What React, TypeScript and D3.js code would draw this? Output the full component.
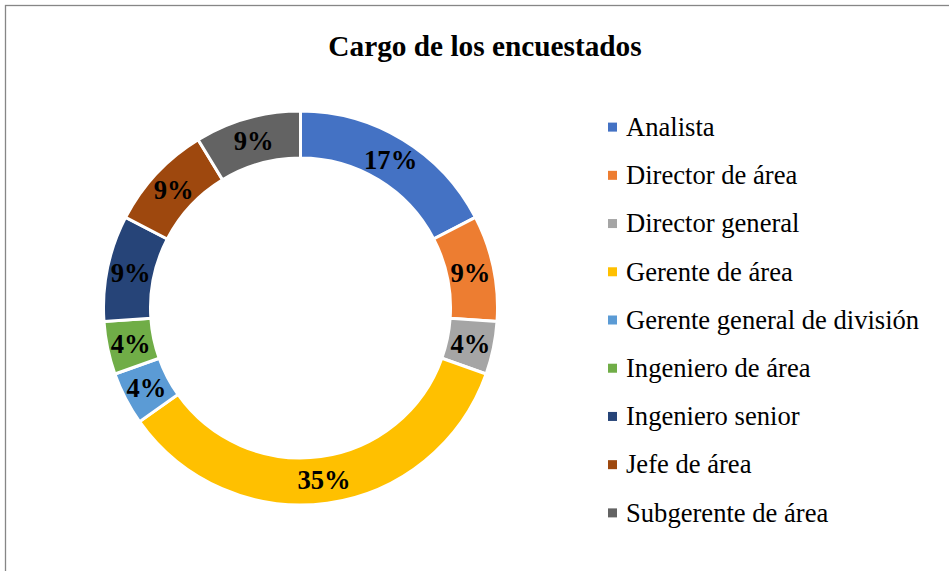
import React, { useEffect, useRef } from 'react';
import * as d3 from 'd3';

const WIDTH = 949;
const HEIGHT = 571;

const categories = [
  'Analista',
  'Director de área',
  'Director general',
  'Gerente de área',
  'Gerente general de división',
  'Ingeniero de área',
  'Ingeniero senior',
  'Jefe de área',
  'Subgerente de área',
];

// respondents per position (23 in total)
const counts = [4, 2, 1, 8, 1, 1, 2, 2, 2];

const colors = [
  '#4472C4',
  '#ED7D31',
  '#A5A5A5',
  '#FFC000',
  '#5B9BD5',
  '#70AD47',
  '#264478',
  '#9E480E',
  '#636363',
];

const FONT = '"Times New Roman", "Liberation Serif", serif';

function drawDonut(node: SVGSVGElement) {
  const svg = d3.select(node);
  svg.selectAll('*').remove();

  const data = categories.map((label, i) => ({ label, value: counts[i], color: colors[i] }));
  const total = d3.sum(data, (d) => d.value);

  svg.append('rect')
    .attr('x', 5.5)
    .attr('y', 5.5)
    .attr('width', WIDTH + 10)
    .attr('height', HEIGHT + 10)
    .attr('fill', '#fff')
    .attr('stroke', '#868686')
    .attr('stroke-width', 1.3);

  svg.append('text')
    .attr('x', 485)
    .attr('y', 56)
    .attr('text-anchor', 'middle')
    .attr('font-family', FONT)
    .attr('font-weight', 700)
    .attr('font-size', 29.3)
    .attr('fill', '#000')
    .text('Cargo de los encuestados');

  const cx = 300.5;
  const cy = 308;
  const outer = 197;
  const inner = 150;

  const pie = d3.pie<{ label: string; value: number; color: string }>()
    .value((d) => d.value)
    .sort(null);
  const arc = d3.arc<d3.PieArcDatum<{ label: string; value: number; color: string }>>()
    .innerRadius(inner)
    .outerRadius(outer);

  const g = svg.append('g').attr('transform', `translate(${cx},${cy})`);
  const arcs = pie(data);

  g.selectAll('path')
    .data(arcs)
    .join('path')
    .attr('d', arc)
    .attr('fill', (d) => d.data.color)
    .attr('stroke', '#fff')
    .attr('stroke-width', 3);

  const fmt = d3.format('.0%');
  g.selectAll('text.pct')
    .data(arcs)
    .join('text')
    .attr('class', 'pct')
    .attr('transform', (d) => `translate(${arc.centroid(d)})`)
    .attr('text-anchor', 'middle')
    .attr('dy', '0.35em')
    .attr('font-family', FONT)
    .attr('font-weight', 700)
    .attr('font-size', 26.6)
    .attr('fill', '#000')
    .text((d) => fmt(d.data.value / total));

  const legend = d3.scaleBand<string>()
    .domain(categories)
    .range([103, 537]);

  const rows = svg.append('g')
    .selectAll('g')
    .data(data)
    .join('g')
    .attr('transform', (d) => `translate(608,${(legend(d.label) ?? 0) + legend.bandwidth() / 2})`);

  rows.append('rect')
    .attr('x', 0)
    .attr('y', -4.5)
    .attr('width', 9)
    .attr('height', 9)
    .attr('fill', (d) => d.color);

  rows.append('text')
    .attr('x', 18)
    .attr('y', 8.8)
    .attr('font-family', FONT)
    .attr('font-size', 26.6)
    .attr('fill', '#000')
    .text((d) => d.label);
}

export default function App() {
  const ref = useRef<SVGSVGElement>(null);

  useEffect(() => {
    if (ref.current) {
      drawDonut(ref.current);
    }
  }, []);

  return (
    <svg
      ref={ref}
      width={WIDTH}
      height={HEIGHT}
      style={{ position: 'absolute', left: 0, top: 0, background: '#fff' }}
    />
  );
}
